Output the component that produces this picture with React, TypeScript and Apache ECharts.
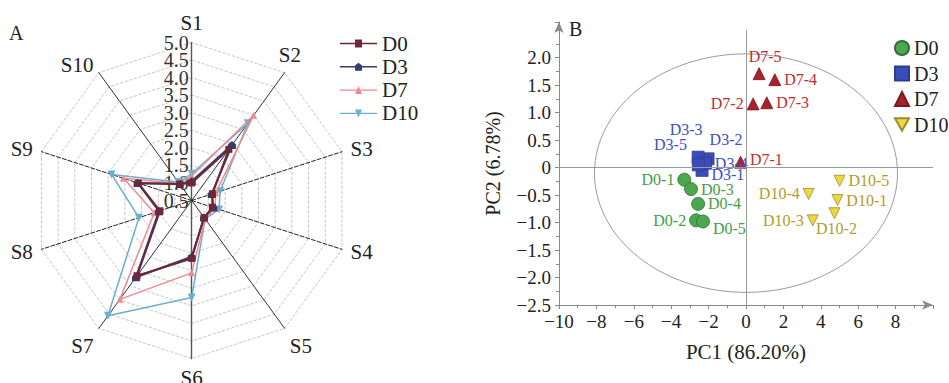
import React, { useEffect, useRef } from "react";
import * as echarts from "echarts";

// ---------- Radar (A) data ----------
const radarIndicators = ["S1", "S2", "S3", "S4", "S5", "S6", "S7", "S8", "S9", "S10"];
const radarD0 = [1.0, 2.3, 1.12, 1.12, 1.1, 2.15, 3.15, 1.45, 2.1, 1.08];
const radarD3 = [1.05, 2.45, 1.1, 1.15, 1.1, 2.1, 3.2, 1.48, 2.12, 1.08];
const radarD7 = [1.2, 3.5, 1.22, 1.2, 1.15, 2.56, 3.98, 1.62, 2.54, 1.1];
const radarD10 = [1.26, 3.22, 1.35, 1.32, 1.15, 3.26, 4.56, 2.08, 2.9, 1.15];
const radarMin = 0.5;
const radarMax = 5.0;

// ---------- PCA (B) data ----------
const pcaD0Names = ["D0-1", "D0-2", "D0-3", "D0-4", "D0-5"];
const pcaD0X = [-3.3, -2.67, -2.94, -2.56, -2.3];
const pcaD0Y = [-0.22, -0.96, -0.39, -0.66, -0.98];
const pcaD3Names = ["D3-1", "D3-2", "D3-3", "D3-4", "D3-5"];
const pcaD3X = [-2.35, -2.03, -2.56, -2.17, -2.55];
const pcaD3Y = [-0.05, 0.16, 0.19, 0.08, 0.05];
const pcaD7Names = ["D7-1", "D7-2", "D7-3", "D7-4", "D7-5"];
const pcaD7X = [-0.29, 0.38, 1.11, 1.54, 0.7];
const pcaD7Y = [0.1, 1.16, 1.18, 1.6, 1.71];
const pcaD10Names = ["D10-1", "D10-2", "D10-3", "D10-4", "D10-5"];
const pcaD10X = [4.89, 4.73, 3.57, 3.35, 5.0];
const pcaD10Y = [-0.59, -0.83, -0.96, -0.48, -0.24];
// confidence ellipse parameters
const ellipseCenter = [0, -0.1];
const ellipseRadii = [8.1, 2.17];

const FONT = "Liberation Serif, Times New Roman, serif";

// label placement (styling)
const labelPlacement: Record<string, { position: string; offset?: number[] }> = {
  "D0-1": { position: "left" },
  "D0-2": { position: "left" },
  "D0-3": { position: "right" },
  "D0-4": { position: "right" },
  "D0-5": { position: "right", offset: [0, 7] },
  "D3-1": { position: "right", offset: [0, 4] },
  "D3-2": { position: "top", offset: [18, -2] },
  "D3-3": { position: "top", offset: [-12, -10] },
  "D3-4": { position: "right", offset: [0, 0] },
  "D3-5": { position: "left", offset: [-2, -20] },
  "D7-1": { position: "right", offset: [0, -3] },
  "D7-2": { position: "left" },
  "D7-3": { position: "right" },
  "D7-4": { position: "right" },
  "D7-5": { position: "top", offset: [6, 0] },
  "D10-1": { position: "right" },
  "D10-2": { position: "bottom", offset: [2, -2] },
  "D10-3": { position: "left" },
  "D10-4": { position: "left" },
  "D10-5": { position: "right" },
};

const DOWN_TRI = "path://M0,0 L10,0 L5,9 Z";
const HOUSE = "path://M5,0 L10,4 L10,10 L0,10 L0,4 Z";

export default function App() {
  const ref = useRef<HTMLDivElement>(null);
  useEffect(() => {
    document.body.style.margin = "0";
    if (!ref.current) return;
    const chart = echarts.init(ref.current, undefined, { renderer: "svg" });

    // clockwise order: S1, S10, S9 ... S2 (ECharts radar runs counter-clockwise)
    const order = [0, 9, 8, 7, 6, 5, 4, 3, 2, 1];
    const dashedAxes = [2, 3, 7, 8];
    const greyAxes = [0, 5];
    const nameStyles: Record<number, any> = {
      1: { align: "center", verticalAlign: "bottom" },
      4: { verticalAlign: "top" },
      6: { verticalAlign: "top" },
    };

    const radarDefs = [
      { name: "D0", values: radarD0, color: "#6e2639", symbol: "rect", size: 7, width: 2 },
      { name: "D3", values: radarD3, color: "#2e4170", symbol: HOUSE, size: 8, width: 2 },
      { name: "D7", values: radarD7, color: "#f08a8e", symbol: "triangle", size: 7, width: 1.5 },
      { name: "D10", values: radarD10, color: "#6aaed0", symbol: DOWN_TRI, size: 8, width: 1.5 },
    ];

    const pcaDefs = [
      { name: "PCA D0", names: pcaD0Names, xs: pcaD0X, ys: pcaD0Y, symbol: "circle", size: 13, color: "#4aa84e", border: "#2f6f33", label: "#3fa044" },
      { name: "PCA D3", names: pcaD3Names, xs: pcaD3X, ys: pcaD3Y, symbol: "rect", size: 12, color: "#3b4db8", border: "#2d3c95", label: "#3b50c4" },
      { name: "PCA D7", names: pcaD7Names, xs: pcaD7X, ys: pcaD7Y, symbol: "triangle", size: 12, color: "#a8212c", border: "#7a1820", label: "#c42b30" },
      { name: "PCA D10", names: pcaD10Names, xs: pcaD10X, ys: pcaD10Y, symbol: DOWN_TRI, size: 11, color: "#ecd942", border: "#9c8c2c", label: "#b39a2c" },
    ];

    const ellipse: number[][] = [];
    for (let i = 0; i <= 180; i++) {
      const t = (i / 180) * Math.PI * 2;
      ellipse.push([
        ellipseCenter[0] + ellipseRadii[0] * Math.cos(t),
        ellipseCenter[1] + ellipseRadii[1] * Math.sin(t),
      ]);
    }

    const legendAIcons: Record<string, string> = {
      D0: "path://M0,3.3 L37,3.3 L37,4.7 L0,4.7 Z M15,0 L22,0 L22,8 L15,8 Z",
      D3: "path://M0,3.3 L37,3.3 L37,4.7 L0,4.7 Z M18.5,0 L22,2.6 L22,8 L15,8 L15,2.6 Z",
      D7: "path://M0,3.3 L37,3.3 L37,4.7 L0,4.7 Z M18.5,0 L22,8 L15,8 Z",
      D10: "path://M0,3.3 L37,3.3 L37,4.7 L0,4.7 Z M15,0 L22,0 L18.5,8 Z",
    };

    const labelBase = {
      fontSize: 20,
      fontFamily: FONT,
      color: "#333",
      margin: 3,
    };

    const option: any = {
      animation: false,
      backgroundColor: "#ffffff",
      textStyle: { fontFamily: FONT },
      graphic: [
        { type: "text", left: 9, top: 23, style: { text: "A", fontSize: 20, fontFamily: FONT, fill: "#222" } },
        { type: "text", left: 569, top: 19, style: { text: "B", fontSize: 20, fontFamily: FONT, fill: "#222" } },
      ],
      legend: [
        {
          orient: "vertical",
          left: 335,
          top: 28,
          itemWidth: 37,
          itemHeight: 8,
          itemGap: 2.3,
          selectedMode: false,
          textStyle: { fontSize: 21, fontFamily: FONT, color: "#222" },
          data: radarDefs.map((d) => ({ name: d.name, icon: legendAIcons[d.name] })),
        },
        {
          orient: "vertical",
          left: 889,
          top: 33,
          itemWidth: 14,
          itemHeight: 14,
          itemGap: 5.5,
          selectedMode: false,
          textStyle: { fontSize: 20, fontFamily: FONT, color: "#222" },
          formatter: (n: string) => n.replace("PCA ", ""),
          data: pcaDefs.map((d) => ({ name: d.name, icon: d.symbol })),
        },
      ],
      radar: [
        {
          center: [191.7, 200.5],
          radius: 158,
          startAngle: 90,
          shape: "polygon",
          splitNumber: 9,
          nameGap: 9,
          axisName: { color: "#222", fontSize: 21, fontFamily: FONT },
          axisLabel: {
            ...labelBase,
            show: false,
            showMinLabel: false,
            showMaxLabel: false,
            formatter: (v: number) => v.toFixed(1),
          },
          axisTick: { show: false },
          axisLine: { lineStyle: { color: "#333", width: 1 } },
          splitLine: { lineStyle: { type: "dashed", color: "#b8b8b8", width: 0.8 } },
          splitArea: { show: false },
          indicator: order.map((i) => {
            const ind: any = { name: radarIndicators[i], min: radarMin, max: radarMax };
            if (i === 0) ind.axisLabel = { show: true };
            if (dashedAxes.includes(i)) ind.axisLine = { lineStyle: { type: "dashed", color: "#222" } };
            if (greyAxes.includes(i)) ind.axisLine = { lineStyle: { color: "#555", width: 1.4 } };
            if (nameStyles[i]) ind.nameTextStyle = nameStyles[i];
            return ind;
          }),
        },
        {
          // second, invisible radar that only carries the end labels (0.5 and 5.0)
          center: [191.7, 200.5],
          radius: 158,
          startAngle: 90,
          shape: "polygon",
          splitNumber: 9,
          axisName: { show: false },
          axisLabel: {
            ...labelBase,
            show: false,
            showMinLabel: true,
            showMaxLabel: true,
            formatter: (v: number) =>
              Math.abs(v - radarMin) < 1e-6 || Math.abs(v - radarMax) < 1e-6 ? v.toFixed(1) : "",
          },
          axisTick: { show: false },
          axisLine: { show: false },
          splitLine: { show: false },
          splitArea: { show: false },
          indicator: order.map((i) => {
            const ind: any = { name: radarIndicators[i], min: radarMin, max: radarMax };
            if (i === 0) ind.axisLabel = { show: true };
            return ind;
          }),
        },
      ],
      grid: { left: 559, right: 16, top: 22, bottom: 78 },
      xAxis: {
        type: "value",
        min: -10,
        max: 10,
        interval: 2,
        splitLine: { show: false },
        axisLine: {
          show: true,
          onZero: false,
          symbol: ["none", "arrow"],
          symbolSize: [7, 11],
          lineStyle: { color: "#8a8a8a", width: 1 },
        },
        axisTick: { show: true, length: 4, lineStyle: { color: "#8a8a8a" } },
        minorTick: { show: true, splitNumber: 2, length: 3, lineStyle: { color: "#8a8a8a" } },
        axisLabel: {
          fontSize: 19,
          fontFamily: FONT,
          color: "#222",
          margin: 7,
          formatter: (v: number) => (v >= 10 ? "" : String(v).replace("-", "\u2212")),
        },
        name: "PC1 (86.20%)",
        nameLocation: "middle",
        nameGap: 36,
        nameTextStyle: { fontSize: 21, fontFamily: FONT, color: "#222" },
      },
      yAxis: {
        type: "value",
        min: -2.5,
        max: 2.65,
        interval: 0.5,
        splitLine: { show: false },
        axisLine: {
          show: true,
          onZero: false,
          symbol: ["none", "arrow"],
          symbolSize: [7, 11],
          lineStyle: { color: "#8a8a8a", width: 1 },
        },
        axisTick: { show: true, length: 4, lineStyle: { color: "#8a8a8a" } },
        minorTick: { show: true, splitNumber: 2, length: 3, lineStyle: { color: "#8a8a8a" } },
        axisLabel: {
          fontSize: 19,
          fontFamily: FONT,
          color: "#222",
          margin: 8,
          formatter: (v: number) =>
            v > 2.2 ? "" : v === 0 ? "0" : v.toFixed(1).replace("-", "\u2212"),
        },
        name: "PC2 (6.78%)",
        nameLocation: "middle",
        nameGap: 56,
        nameTextStyle: { fontSize: 20, fontFamily: FONT, color: "#222" },
      },
      series: [
        ...radarDefs.map((d, k) => ({
          type: "radar",
          radarIndex: 0,
          name: d.name,
          symbol: d.symbol,
          symbolSize: d.size,
          z: 2 + (3 - k),
          lineStyle: { color: d.color, width: d.width },
          itemStyle: { color: d.color },
          data: [{ name: d.name, value: order.map((i) => d.values[i]) }],
        })),
        {
          type: "line",
          name: "ellipse",
          data: ellipse,
          showSymbol: false,
          silent: true,
          lineStyle: { color: "#9a9a9a", width: 1 },
          z: 1,
          markLine: {
            silent: true,
            symbol: "none",
            label: { show: false },
            lineStyle: { color: "#9a9a9a", type: "solid", width: 1 },
            data: [
              [{ coord: [-10, 0] }, { coord: [10, 0] }],
              [{ coord: [0, -2.5] }, { coord: [0, 2.5] }],
            ],
          },
        },
        ...pcaDefs.map((d) => ({
          type: "scatter",
          name: d.name,
          symbol: d.symbol,
          symbolSize: d.size,
          z: 3,
          itemStyle: { color: d.color, borderColor: d.border, borderWidth: 0.8, opacity: 1 },
          label: {
            show: true,
            formatter: (p: any) => p.name,
            color: d.label,
            fontSize: 16,
            fontFamily: FONT,
            distance: 3,
          },
          data: d.names.map((n, i) => ({
            name: n,
            value: [d.xs[i], d.ys[i]],
            label: labelPlacement[n],
          })),
        })),
      ],
    };

    chart.setOption(option);
    return () => chart.dispose();
  }, []);
  return <div ref={ref} style={{ width: 949, height: 383 }} />;
}
